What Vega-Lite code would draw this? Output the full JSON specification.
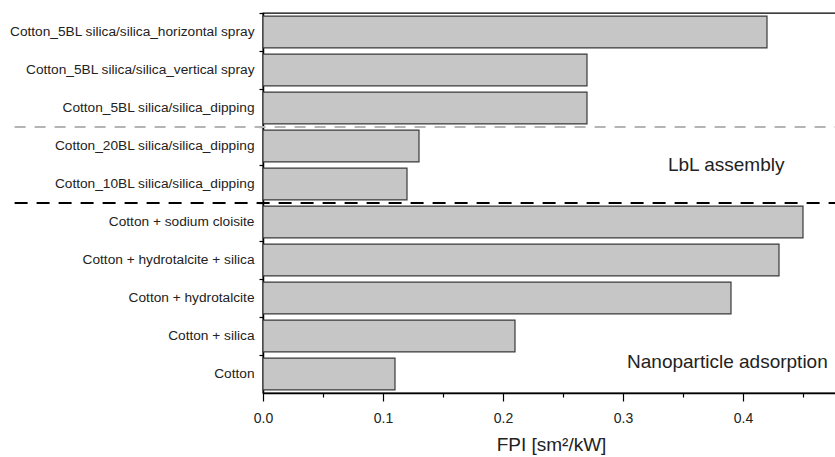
{
  "$schema": "https://vega.github.io/schema/vega-lite/v6.json",
  "width": 576,
  "height": 380,
  "autosize": {"type": "none"},
  "padding": {"left": 263, "top": 13, "right": 0, "bottom": 64},
  "background": "white",
  "config": {
    "view": {"stroke": "#000", "strokeWidth": 1.3},
    "font": "Liberation Sans"
  },
  "datasets": {
    "bars": [
      {"sample": "Cotton_5BL silica/silica_horizontal spray", "fpi": 0.42},
      {"sample": "Cotton_5BL silica/silica_vertical spray", "fpi": 0.27},
      {"sample": "Cotton_5BL silica/silica_dipping", "fpi": 0.27},
      {"sample": "Cotton_20BL silica/silica_dipping", "fpi": 0.13},
      {"sample": "Cotton_10BL silica/silica_dipping", "fpi": 0.12},
      {"sample": "Cotton + sodium cloisite", "fpi": 0.45},
      {"sample": "Cotton + hydrotalcite + silica", "fpi": 0.43},
      {"sample": "Cotton + hydrotalcite", "fpi": 0.39},
      {"sample": "Cotton + silica", "fpi": 0.21},
      {"sample": "Cotton", "fpi": 0.11}
    ],
    "grayLine": [{"sample": "Cotton_20BL silica/silica_dipping"}],
    "blackLine": [{"sample": "Cotton + sodium cloisite"}],
    "lblText": [{"sample": "Cotton_10BL silica/silica_dipping", "label": "LbL assembly", "fpi": 0.386}],
    "nanoText": [{"sample": "Cotton", "label": "Nanoparticle adsorption", "fpi": 0.387}]
  },
  "layer": [
    {
      "data": {"name": "bars"},
      "mark": {"type": "bar", "fill": "#c6c6c6", "stroke": "#3a3a3a", "strokeWidth": 1.2, "height": {"band": 0.84}},
      "encoding": {
        "y": {
          "field": "sample",
          "type": "nominal",
          "sort": null,
          "scale": {
            "domain": [
              "Cotton_5BL silica/silica_horizontal spray",
              "Cotton_5BL silica/silica_vertical spray",
              "Cotton_5BL silica/silica_dipping",
              "Cotton_20BL silica/silica_dipping",
              "Cotton_10BL silica/silica_dipping",
              "Cotton + sodium cloisite",
              "Cotton + hydrotalcite + silica",
              "Cotton + hydrotalcite",
              "Cotton + silica",
              "Cotton"
            ],
            "paddingInner": 0,
            "paddingOuter": 0
          },
          "axis": {
            "title": null,
            "bandPosition": 0,
            "domainColor": "#000",
            "domainWidth": 1.5,
            "tickColor": "#000",
            "tickSize": 4,
            "tickWidth": 1.2,
            "labelFontSize": 13.7,
            "labelColor": "#222",
            "labelPadding": 5,
            "labelLimit": 300
          }
        },
        "x": {
          "field": "fpi",
          "type": "quantitative",
          "scale": {"domain": [0, 0.48], "nice": false, "zero": true},
          "axis": {
            "title": "FPI [sm²/kW]",
            "titleFontSize": 19,
            "titleFontWeight": "normal",
            "titleColor": "#222",
            "titlePadding": 10,
            "values": [0, 0.025, 0.05, 0.075, 0.1, 0.125, 0.15, 0.175, 0.2, 0.225, 0.25, 0.275, 0.3, 0.325, 0.35, 0.375, 0.4, 0.425, 0.45, 0.475],
            "labelExpr": "abs(datum.value * 10 - round(datum.value * 10)) < 0.001 ? format(datum.value, '.1f') : ''",
            "labelFontSize": 14,
            "labelColor": "#222",
            "labelPadding": 10,
            "labelFlush": false,
            "labelOverlap": false,
            "domainColor": "#000",
            "domainWidth": 1.5,
            "tickColor": "#000",
            "tickWidth": 1.2,
            "tickSize": {"condition": {"test": "abs(datum.value * 10 - round(datum.value * 10)) < 0.001", "value": 8}, "value": 4},
            "grid": false
          }
        }
      }
    },
    {
      "data": {"name": "grayLine"},
      "mark": {"type": "rule", "color": "#b4b4b4", "strokeWidth": 2, "strokeDash": [11, 9]},
      "encoding": {
        "y": {"field": "sample", "type": "nominal", "bandPosition": 0},
        "x": {"datum": -0.207},
        "x2": {"datum": 0.48}
      }
    },
    {
      "data": {"name": "blackLine"},
      "mark": {"type": "rule", "color": "#000", "strokeWidth": 2.2, "strokeDash": [13, 9]},
      "encoding": {
        "y": {"field": "sample", "type": "nominal", "bandPosition": 0},
        "x": {"datum": -0.207},
        "x2": {"datum": 0.48}
      }
    },
    {
      "data": {"name": "lblText"},
      "mark": {"type": "text", "fontSize": 19, "color": "#222", "align": "center", "baseline": "middle"},
      "encoding": {
        "y": {"field": "sample", "type": "nominal", "bandPosition": 0},
        "x": {"field": "fpi", "type": "quantitative"},
        "text": {"field": "label"}
      }
    },
    {
      "data": {"name": "nanoText"},
      "mark": {"type": "text", "fontSize": 19, "color": "#222", "align": "center", "baseline": "middle"},
      "encoding": {
        "y": {"field": "sample", "type": "nominal", "bandPosition": 0.18},
        "x": {"field": "fpi", "type": "quantitative"},
        "text": {"field": "label"}
      }
    }
  ]
}
